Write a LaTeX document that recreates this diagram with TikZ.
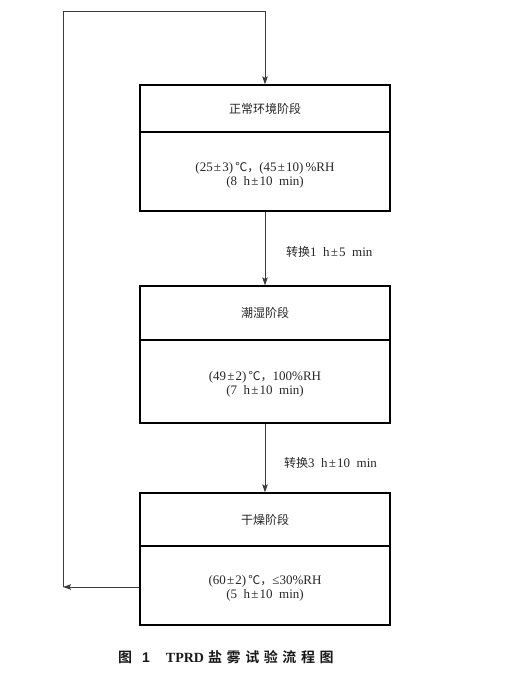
\documentclass[tikz,border=0pt]{standalone}
\usepackage{fontspec}
\setmainfont{Liberation Serif}
\setsansfont{Liberation Sans}
\newfontfamily\cjk{Noto Sans CJK SC}
\newfontfamily\cjkb{Noto Sans CJK SC Bold}
\usetikzlibrary{arrows.meta}
\definecolor{linegray}{RGB}{60,60,60}
\newcommand{\pmx}{\kern1.2pt±\kern1.2pt}
\tikzset{
  stagebox/.style={draw=black, line width=1.3pt, minimum width=250pt, inner sep=0pt, align=center, font=\fontsize{13}{14}\selectfont, text=black!85},
  condtext/.style={inner sep=0pt, align=center, font=\fontsize{13}{14}\selectfont, text=black!85},
  cjktitle/.style={font=\fontsize{12}{14}\selectfont\cjk},
  flowline/.style={draw=linegray, line width=0.8pt},
  flowarrow/.style={flowline, -{Stealth[length=8pt,width=5.5pt,inset=1.5pt]}},
  steplabel/.style={anchor=west, inner sep=0pt, font=\fontsize{13}{14}\selectfont, text=black!85},
}
\begin{document}
\begin{tikzpicture}[x=1pt,y=-1pt]
\useasboundingbox (0,0) rectangle (529,691);
% stage 1
\node[stagebox, cjktitle, minimum height=47pt] (t1) at (265,108.5) {正常环境阶段};
\node[stagebox, minimum height=79pt] (c1) at (265,171.5) {};
\node[condtext] (x1) at (265,175) {(25\pmx3)\,{\fontsize{12}{14}\cjk ℃，}(45\pmx10)\,\%RH\\(8\ \ h\pmx10\ \ min)};
% stage 2
\node[stagebox, cjktitle, minimum height=54pt] (t2) at (265,313) {潮湿阶段};
\node[stagebox, minimum height=83pt] (c2) at (265,381.5) {};
\node[condtext] (x2) at (265,384.5) {(49\pmx2)\,{\fontsize{12}{14}\cjk ℃，}100\%RH\\(7\ \ h\pmx10\ \ min)};
% stage 3
\node[stagebox, cjktitle, minimum height=53pt] (t3) at (265,519.5) {干燥阶段};
\node[stagebox, minimum height=79pt] (c3) at (265,585.5) {};
\node[condtext] (x3) at (265,588.5) {(60\pmx2)\,{\fontsize{12}{14}\cjk ℃，}≤30\%RH\\(5\ \ h\pmx10\ \ min)};
% transitions
\draw[flowarrow] (c1.south) -- (t2.north);
\draw[flowarrow] (c2.south) -- (t3.north);
\node[steplabel] (l1) at (286,252) {{\fontsize{12}{14}\cjk 转换}1\ \ h\pmx5\ \ min};
\node[steplabel] (l2) at (284,463) {{\fontsize{12}{14}\cjk 转换}3\ \ h\pmx10\ \ min};
% loop back
\coordinate (r1) at (63,587);
\coordinate (r2) at (63,11);
\coordinate (r3) at (265,11);
\draw[flowarrow] (c3.west |- r1) -- (r1);
\draw[flowline] (r1) -- (r2) -- (r3);
\draw[flowarrow] (r3) -- (t1.north);
% caption
\node[anchor=west, inner sep=0pt, text=black!90] (cap) at (118,657)
  {\fontsize{14}{16}\selectfont{\cjkb 图}\hspace{10pt}{\sffamily\bfseries 1}\hspace{16pt}{\bfseries TPRD}\hspace{4pt}{\cjkb 盐\hspace{4.6pt}雾\hspace{4.6pt}试\hspace{4.6pt}验\hspace{4.6pt}流\hspace{4.6pt}程\hspace{4.6pt}图}};
\end{tikzpicture}
\end{document}
